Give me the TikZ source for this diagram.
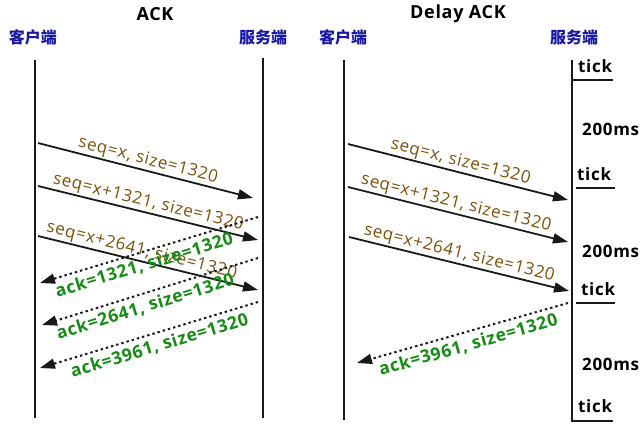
\documentclass[tikz,border=0pt]{standalone}
\usepackage{fontspec}
\setmainfont{Open Sans}
\newfontfamily\spaced{Open Sans}[LetterSpace=4]
\newfontfamily\cjk{Noto Sans CJK SC}
\usetikzlibrary{arrows.meta}
\definecolor{seqc}{RGB}{125,80,10}
\definecolor{ackc}{RGB}{20,140,20}
\definecolor{endc}{RGB}{25,25,165}
\definecolor{linec}{RGB}{25,25,25}
\begin{document}
\begin{tikzpicture}[x=1pt,y=-1pt,
  lifeline/.style={draw=linec, line width=2.2pt},
  tickline/.style={draw=linec, line width=2pt},
  msg/.style={draw=linec, line width=1.8pt, -{Triangle[length=15pt,width=10pt]}},
  ackmsg/.style={draw=linec, line width=2pt, dash pattern=on 2.4pt off 3pt, -{Triangle[length=15pt,width=10pt]}},
  seqlab/.style={text=seqc, font=\spaced\fontsize{17}{20}\selectfont, sloped, above, inner sep=1pt},
  acklab/.style={text=ackc, font=\spaced\bfseries\fontsize{17.5}{20}\selectfont, sloped, below, inner sep=4.5pt},
  endlab/.style={text=endc, font=\cjk\bfseries\fontsize{16}{18}\selectfont, inner sep=0pt},
  titlelab/.style={font=\spaced\bfseries\fontsize{18}{20}\selectfont, inner sep=0pt},
  ticklab/.style={font=\spaced\bfseries\fontsize{17}{18}\selectfont, anchor=west, inner sep=0pt}
]
\useasboundingbox (0,0) rectangle (642,432);

% ---------- left: ACK ----------
\node[titlelab] (t1) at (155,14) {ACK};
\node[endlab] (c1) at (33,37) {客户端};
\node[endlab] (sv1) at (263,37) {服务端};
\coordinate (c1top) at (35,60);
\coordinate (c1bot) at (35,418);
\coordinate (s1top) at (263,58);
\coordinate (s1bot) at (263,418);
\draw[lifeline] (c1top) -- (c1bot);
\draw[lifeline] (s1top) -- (s1bot);

\coordinate (p1a) at (38,143);  \coordinate (p1b) at (253,198);
\coordinate (p2a) at (38,186);  \coordinate (p2b) at (258,240);
\coordinate (p3a) at (38,236);  \coordinate (p3b) at (258,290);
\coordinate (q1a) at (258,217); \coordinate (q1b) at (40,283);
\coordinate (q2a) at (258,258); \coordinate (q2b) at (42,325);
\coordinate (q3a) at (258,302); \coordinate (q3b) at (40,368);

\draw[msg] (p1a) -- node[seqlab, pos=0.5] (l1) {seq=x, size=1320} (p1b);
\draw[msg] (p2a) -- node[seqlab, pos=0.49] (l2) {seq=x+1321, size=1320} (p2b);
\draw[msg] (p3a) -- node[seqlab, pos=0.46] (l3) {seq=x+2641, size=1320} (p3b);
\draw[ackmsg] (q1a) -- node[acklab, pos=0.54] (k1) {ack=1321, size=1320} (q1b);
\draw[ackmsg] (q2a) -- node[acklab, pos=0.54] (k2) {ack=2641, size=1320} (q2b);
\draw[ackmsg] (q3a) -- node[acklab, pos=0.47] (k3) {ack=3961, size=1320} (q3b);

% ---------- right: Delay ACK ----------
\node[titlelab] (t2) at (458,14) {Delay ACK};
\node[endlab] (c2) at (343,37) {客户端};
\node[endlab] (sv2) at (574,37) {服务端};
\coordinate (c2top) at (344,60);
\coordinate (c2bot) at (344,420);
\coordinate (s2top) at (572,60);
\coordinate (s2bot) at (572,421);
\draw[lifeline] (c2top) -- (c2bot);
\draw[lifeline] (s2top) -- (s2bot);

\coordinate (k1a) at (571,80);  \coordinate (k1b) at (613,80);
\coordinate (k2a) at (576,188); \coordinate (k2b) at (615,188);
\coordinate (k3a) at (576,303); \coordinate (k3b) at (615,303);
\coordinate (k4a) at (571,421); \coordinate (k4b) at (613,421);
\draw[tickline] (k1a) -- (k1b);
\draw[tickline] (k2a) -- (k2b);
\draw[tickline] (k3a) -- (k3b);
\draw[tickline] (k4a) -- (k4b);
\node[ticklab] (tk1) at (578,66) {tick};
\node[ticklab] (tk2) at (577,174) {tick};
\node[ticklab] (tk3) at (581,289) {tick};
\node[ticklab] (tk4) at (578,406) {tick};
\node[ticklab] (ms1) at (582,129) {200ms};
\node[ticklab] (ms2) at (582,251) {200ms};
\node[ticklab] (ms3) at (582,364) {200ms};

\coordinate (r1a) at (348,144); \coordinate (r1b) at (568,200);
\coordinate (r2a) at (348,187); \coordinate (r2b) at (568,242);
\coordinate (r3a) at (349,237); \coordinate (r3b) at (569,291);
\coordinate (raa) at (568,303); \coordinate (rab) at (357,363);

\draw[msg] (r1a) -- node[seqlab, pos=0.5] (m1) {seq=x, size=1320} (r1b);
\draw[msg] (r2a) -- node[seqlab, pos=0.48] (m2) {seq=x+1321, size=1320} (r2b);
\draw[msg] (r3a) -- node[seqlab, pos=0.49] (m3) {seq=x+2641, size=1320} (r3b);
\draw[ackmsg] (raa) -- node[acklab, pos=0.49] (ma) {ack=3961, size=1320} (rab);
\end{tikzpicture}
\end{document}
